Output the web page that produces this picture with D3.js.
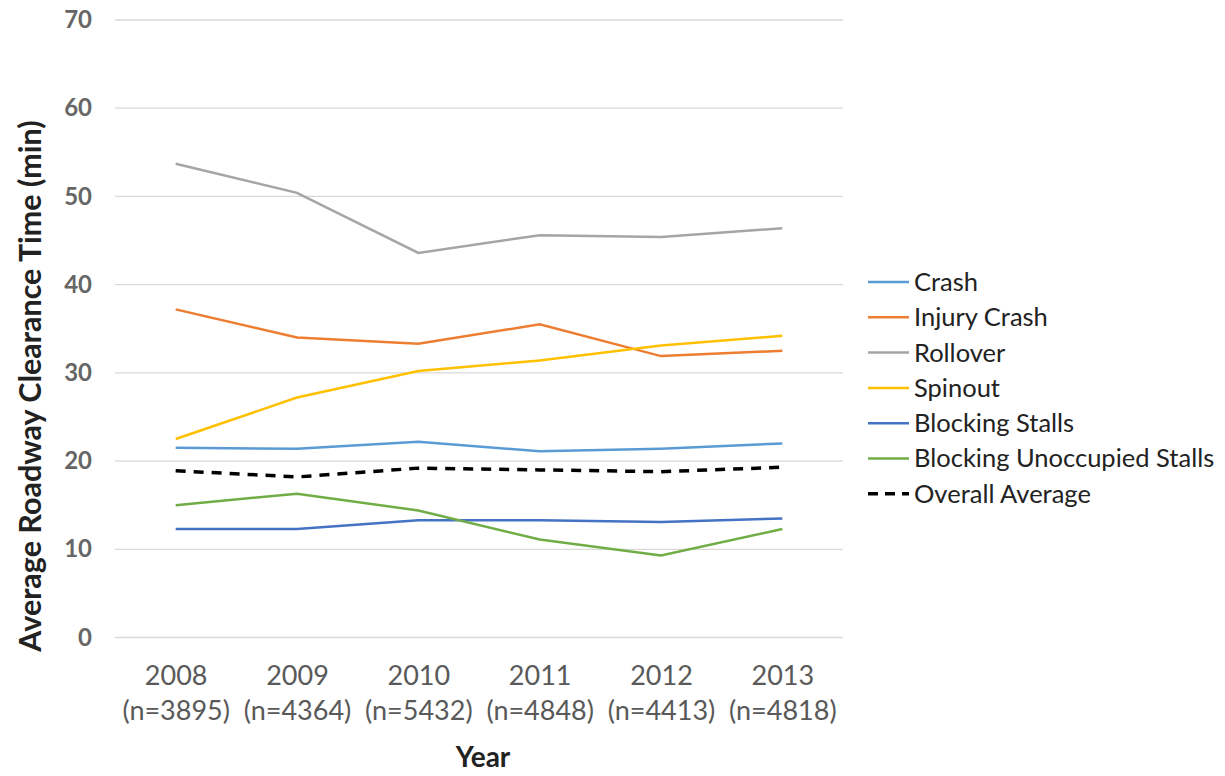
<!DOCTYPE html>
<html>
<head>
<meta charset="utf-8">
<script src="https://cdn.jsdelivr.net/npm/d3@7"></script>
<style>
  body { margin: 0; background: #fff; }
  text { font-family: Lato, "Open Sans", sans-serif; }
</style>
</head>
<body>
<script>
var years = ["2008", "2009", "2010", "2011", "2012", "2013"];
var counts = ["(n=3895)", "(n=4364)", "(n=5432)", "(n=4848)", "(n=4413)", "(n=4818)"];
var yTicks = [0, 10, 20, 30, 40, 50, 60, 70];

var crash = [21.5, 21.4, 22.2, 21.1, 21.4, 22.0];
var injuryCrash = [37.2, 34.0, 33.3, 35.5, 31.9, 32.5];
var rollover = [53.7, 50.4, 43.6, 45.6, 45.4, 46.4];
var spinout = [22.5, 27.2, 30.2, 31.4, 33.1, 34.2];
var blockingStalls = [12.3, 12.3, 13.3, 13.3, 13.1, 13.5];
var blockingUnoccupied = [15.0, 16.3, 14.4, 11.1, 9.3, 12.3];
var overallAverage = [18.9, 18.2, 19.2, 19.0, 18.8, 19.3];

var seriesNames = ["Crash", "Injury Crash", "Rollover", "Spinout", "Blocking Stalls",
    "Blocking Unoccupied Stalls", "Overall Average"];
var seriesValues = [crash, injuryCrash, rollover, spinout, blockingStalls,
    blockingUnoccupied, overallAverage];
var seriesColors = ["#5B9BD5", "#ED7D31", "#A5A5A5", "#FFC000", "#4472C4", "#70AD47", "#000000"];

var w = 1225,
    h = 776;

var svg = d3.select("body")
    .append("svg")
    .attr("width", w)
    .attr("height", h);

var x = d3.scalePoint()
    .domain(years)
    .range([115, 843])
    .padding(0.5);

var y = d3.scaleLinear()
    .domain([0, 70])
    .range([637.5, 20]);

// gridlines
svg.append("g")
    .selectAll("line")
    .data(yTicks)
    .enter()
    .append("line")
    .attr("x1", 115)
    .attr("x2", 843)
    .attr("y1", function(d) { return y(d); })
    .attr("y2", function(d) { return y(d); })
    .style("stroke", "#d9d9d9")
    .style("stroke-width", 1.3);

// y axis labels
var yAxis = svg.append("g")
    .attr("transform", "translate(92,0)")
    .call(d3.axisLeft(y).tickValues(yTicks).tickSize(0).tickPadding(0));
yAxis.select(".domain").remove();
yAxis.selectAll("text")
    .style("font-size", "24px")
    .style("font-weight", "bold")
    .style("fill", "#666")
    .style("font-family", "Lato, 'Open Sans', sans-serif");

// x axis labels
var xAxis = svg.append("g")
    .attr("transform", "translate(0,665)")
    .call(d3.axisBottom(x).tickSize(0).tickPadding(0));
xAxis.select(".domain").remove();
xAxis.selectAll(".tick text").remove();
xAxis.selectAll(".tick")
    .append("text")
    .attr("y", 20)
    .attr("text-anchor", "middle")
    .style("font-size", "27px")
    .style("fill", "#595959")
    .text(function(d) { return d; });
xAxis.selectAll(".tick")
    .append("text")
    .attr("y", 55)
    .attr("text-anchor", "middle")
    .style("font-size", "27px")
    .style("fill", "#595959")
    .text(function(d, i) { return counts[i]; });

// axis titles
svg.append("text")
    .attr("x", 483)
    .attr("y", 767)
    .attr("text-anchor", "middle")
    .style("font-size", "28px")
    .style("font-weight", "bold")
    .style("fill", "#222")
    .text("Year");

svg.append("text")
    .attr("transform", "translate(41,386) rotate(-90)")
    .attr("text-anchor", "middle")
    .style("font-size", "30.5px")
    .style("font-weight", "bold")
    .style("fill", "#222")
    .text("Average Roadway Clearance Time (min)");

// lines
var line = d3.line()
    .x(function(d, i) { return x(years[i]); })
    .y(function(d) { return y(d); });

svg.append("g")
    .selectAll("path")
    .data(seriesValues)
    .enter()
    .append("path")
    .attr("d", line)
    .style("fill", "none")
    .style("stroke", function(d, i) { return seriesColors[i]; })
    .style("stroke-width", function(d, i) { return i == 6 ? 3.5 : 2.5; })
    .style("stroke-dasharray", function(d, i) { return i == 6 ? "10,8" : null; });

// legend
var legend = svg.append("g")
    .selectAll("g")
    .data(seriesNames)
    .enter()
    .append("g")
    .attr("transform", function(d, i) { return "translate(868," + (282 + i * 35.3) + ")"; });

legend.append("line")
    .attr("x1", 0)
    .attr("x2", 41)
    .style("stroke", function(d, i) { return seriesColors[i]; })
    .style("stroke-width", function(d, i) { return i == 6 ? 3.5 : 2.5; })
    .style("stroke-dasharray", function(d, i) { return i == 6 ? "10,7" : null; });

legend.append("text")
    .attr("x", 46)
    .attr("dy", "0.35em")
    .style("font-size", "25.5px")
    .style("fill", "#222")
    .text(function(d) { return d; });
</script>
</body>
</html>
